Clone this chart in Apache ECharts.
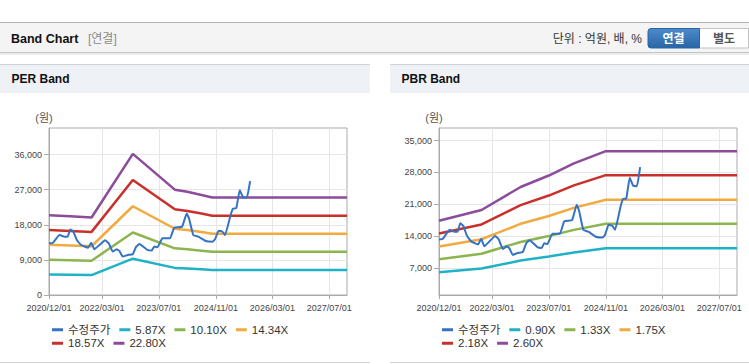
<!DOCTYPE html>
<html><head><meta charset="utf-8">
<script src="https://cdn.jsdelivr.net/npm/echarts@6/dist/echarts.min.js"></script>
<style>html,body{margin:0;padding:0;background:#fff}#c{width:749px;height:364px}</style>
</head><body><div id="c"></div>
<script>
// ---- data ----
const xTickDates = ['2020-12-01','2022-03-01','2023-07-01','2024-11-01','2026-03-01','2027-07-01'];
const xMin = '2020-12-01', xMax = '2027-12-01';

const priceDates = ['2020-12-01','2021-01-04','2021-03-01','2021-04-13','2021-05-10','2021-06-01','2021-06-28','2021-07-28','2021-09-03','2021-11-01','2021-11-28','2021-12-25','2022-02-07','2022-03-28','2022-04-28','2022-06-01','2022-07-04','2022-07-28','2022-08-25','2022-10-07','2022-11-19','2022-12-19','2023-01-16','2023-03-25','2023-05-01','2023-05-22','2023-06-19','2023-08-01','2023-10-04','2023-11-10','2024-01-16','2024-02-25','2024-03-16','2024-04-22','2024-06-04','2024-08-07','2024-10-04','2024-10-25','2024-11-25','2024-12-28','2025-01-19','2025-03-07','2025-03-28','2025-04-25','2025-05-25','2025-06-22','2025-07-25','2025-08-22'];
const priceValues = [13245,13410,15370,14940,14940,16810,16220,14090,12820,12140,13410,11720,12820,14010,13245,11120,11720,11290,9850,10270,10440,12400,13075,11550,11380,12400,12230,14520,14520,17235,17490,20885,19610,15370,14940,13840,13670,14260,16470,16220,15370,20460,22160,22240,26830,25130,24960,29200];

const perDates = ['2020-12-01','2021-06-01','2021-12-01','2022-11-20','2023-11-15','2024-03-01','2024-07-01','2024-10-01','2027-12-01'];
const perNames = ['5.87X','10.10X','14.34X','18.57X','22.80X'];
const per587  = [5265,5189,5113,9310,6950,6809,6604,6428,6428];
const per1010 = [9060,8928,8797,16019,11958,11716,11363,11060,11060];
const per1434 = [12863,12677,12490,22743,16979,16634,16133,15702,15702];
const per1857 = [16657,16416,16174,29452,21987,21541,20891,20334,20334];
const per2280 = [20452,20155,19859,36161,26995,26448,25650,24966,24966];
const perYTicks = [0,9000,18000,27000,36000];

const pbrDates = ['2020-12-01','2021-12-01','2022-11-01','2023-07-01','2024-02-01','2024-11-01','2027-12-01'];
const pbrNames = ['0.90X','1.33X','1.75X','2.18X','2.60X'];
const pbr090 = [6006,6831,8584,9461,10389,11316,11316];
const pbr133 = [8875,10095,12686,13981,15352,16722,16722];
const pbr175 = [11678,13283,16692,18396,20200,22003,22003];
const pbr218 = [14547,16546,20793,22916,25164,27409,27409];
const pbr260 = [17350,19734,24799,27331,30012,32690,32690];
const pbrYTicks = [7000,14000,21000,28000,35000];

const priceName = '수정주가';
const bandColors = ['#1fb1c6','#8cb44f','#f1aa3d','#c9302c','#8c4b9b'];
const priceColor = '#3473c3';

// ---- helpers ----
const ts = s => { const p = s.split('-').map(Number); return Date.UTC(p[0], p[1]-1, p[2]); };
const pad = n => (n < 10 ? '0' : '') + n;
const fmtDate = v => { const d = new Date(v); return d.getUTCFullYear() + '/' + pad(d.getUTCMonth()+1) + '/' + pad(d.getUTCDate()); };
const fmtNum = v => String(v).replace(/\B(?=(\d{3})+(?!\d))/g, ',');
const pairs = (dates, vals) => dates.map((d, i) => [ts(d), vals[i]]);

const FONT = "'Liberation Sans', Arial, 'Noto Sans CJK KR', sans-serif";
const KFONT = "'Liberation Sans', 'Noto Sans CJK KR', sans-serif";

function xAxisCfg(gi) {
  const tv = xTickDates.map(ts);
  return {
    type: 'value', gridIndex: gi, min: ts(xMin), max: ts(xMax), scale: true,
    axisLine: { show: true, onZero: false, lineStyle: { color: '#aaaaaa', width: 1 } },
    axisTick: { show: true, length: 4, lineStyle: { color: '#aaaaaa' }, customValues: tv },
    axisLabel: { customValues: tv, formatter: v => fmtDate(v), fontSize: 9, color: '#444', fontFamily: FONT, margin: 8, showMinLabel: true, showMaxLabel: true },
    splitLine: { show: true, lineStyle: { color: '#e6e6e6', width: 1 } }
  };
}
function yAxisCfg(gi, min, max, ticks) {
  return {
    type: 'value', gridIndex: gi, min: min, max: max,
    axisLine: { show: true, lineStyle: { color: '#aaaaaa', width: 1 } },
    axisTick: { show: true, length: 5, lineStyle: { color: '#aaaaaa' }, customValues: ticks },
    axisLabel: { customValues: ticks, formatter: v => fmtNum(v), fontSize: 9, color: '#444', fontFamily: FONT, margin: 7 },
    splitLine: { show: true, lineStyle: { color: '#e6e6e6', width: 1 } }
  };
}
function lineSeries(name, gi, data, color, width, smooth) {
  return {
    name: name, type: 'line', xAxisIndex: gi, yAxisIndex: gi, data: data,
    showSymbol: false, symbol: 'none', smooth: smooth || false,
    lineStyle: { color: color, width: width }, itemStyle: { color: color },
    emphasis: { disabled: true }, silent: true
  };
}
function legendCfg(left, top, names) {
  return {
    left: left, top: top, orient: 'horizontal', data: names.map(n => ({ name: n, icon: 'rect' })),
    itemWidth: 11, itemHeight: 3, itemGap: 9, selectedMode: false, padding: 0,
    formatter: n => '{a|' + n + '}',
    textStyle: { fontSize: 11.5, color: '#333', fontFamily: KFONT, rich: { a: { width: 40, fontSize: 11.5, color: '#333', fontFamily: KFONT } } }
  };
}

const perBands = [per587, per1010, per1434, per1857, per2280];
const pbrBands = [pbr090, pbr133, pbr175, pbr218, pbr260];

const series = [];
perBands.forEach((b, i) => series.push(lineSeries(perNames[i], 0, pairs(perDates, b), bandColors[i], 2.5)));
pbrBands.forEach((b, i) => series.push(lineSeries(pbrNames[i], 1, pairs(pbrDates, b), bandColors[i], 2.5)));
series.push(lineSeries(priceName, 0, pairs(priceDates, priceValues), priceColor, 2, 0.12));
series.push(lineSeries(priceName, 1, pairs(priceDates, priceValues), priceColor, 2, 0.12));

const graphics = [
  { type: 'rect', shape: { x: 0, y: 22, width: 749, height: 1 }, style: { fill: '#b4b4b4' }, z: -10 },
  { type: 'rect', shape: { x: 0, y: 23, width: 749, height: 29 }, style: { fill: '#f4f4f4' }, z: -10 },
  { type: 'rect', shape: { x: 0, y: 52, width: 749, height: 1 }, style: { fill: '#c4c4c4' }, z: -10 },
  { type: 'rect', shape: { x: 0, y: 53, width: 749, height: 2 }, style: { fill: '#ececec' }, z: -10 },
  { type: 'text', style: { text: 'Band Chart', x: 11, y: 38.5, font: 'bold 12.5px ' + FONT, fill: '#111', verticalAlign: 'middle' } },
  { type: 'text', style: { text: '[연결]', x: 88, y: 38.5, font: '12px ' + KFONT, fill: '#8a8a8a', verticalAlign: 'middle' } },
  { type: 'text', style: { text: '단위 : 억원, 배, %', x: 642, y: 38.5, font: '12px ' + KFONT, fill: '#333', align: 'right', verticalAlign: 'middle' } },
  { type: 'rect', shape: { x: 699.5, y: 28.5, width: 49, height: 19.5 }, style: { fill: '#ffffff', stroke: '#c2c2c2', lineWidth: 1 } },
  { type: 'rect', shape: { x: 648, y: 28.5, width: 51.5, height: 19.5, r: [3, 0, 0, 3] },
    style: { fill: new echarts.graphic.LinearGradient(0, 0, 0, 1, [{ offset: 0, color: '#4d8bcb' }, { offset: 1, color: '#2965a6' }]), stroke: '#2a64a3', lineWidth: 1 } },
  { type: 'text', style: { text: '연결', x: 673.5, y: 38.5, font: 'bold 12px ' + KFONT, fill: '#fff', align: 'center', verticalAlign: 'middle' } },
  { type: 'text', style: { text: '별도', x: 724, y: 38.5, font: 'bold 12px ' + KFONT, fill: '#555', align: 'center', verticalAlign: 'middle' } },
  { type: 'rect', shape: { x: 0, y: 64, width: 370, height: 29 }, style: { fill: '#eef2f7' }, z: -10 },
  { type: 'rect', shape: { x: 0, y: 64, width: 370, height: 1 }, style: { fill: '#d2d2d2' }, z: -10 },
  { type: 'rect', shape: { x: 390, y: 64, width: 359, height: 29 }, style: { fill: '#eef2f7' }, z: -10 },
  { type: 'rect', shape: { x: 390, y: 64, width: 359, height: 1 }, style: { fill: '#d2d2d2' }, z: -10 },
  { type: 'rect', shape: { x: 0, y: 362, width: 370, height: 1 }, style: { fill: '#d2d2d2' }, z: -10 },
  { type: 'rect', shape: { x: 390, y: 362, width: 359, height: 1 }, style: { fill: '#d2d2d2' }, z: -10 },
  { type: 'text', style: { text: 'PER Band', x: 11.5, y: 79, font: 'bold 12px ' + FONT, fill: '#111', verticalAlign: 'middle' } },
  { type: 'text', style: { text: 'PBR Band', x: 401.5, y: 79, font: 'bold 12px ' + FONT, fill: '#111', verticalAlign: 'middle' } },
  { type: 'text', style: { text: '(원)', x: 44, y: 118, font: '11px ' + KFONT, fill: '#555', align: 'center', verticalAlign: 'middle' } },
  { type: 'text', style: { text: '(원)', x: 434, y: 118, font: '11px ' + KFONT, fill: '#555', align: 'center', verticalAlign: 'middle' } }
];

const chart = echarts.init(document.getElementById('c'), null, { renderer: 'svg', width: 749, height: 364 });
chart.setOption({
  animation: false,
  backgroundColor: '#ffffff',
  grid: [
    { left: 49, top: 128, width: 298, height: 167, show: true, borderColor: '#aaaaaa', borderWidth: 1, backgroundColor: 'transparent' },
    { left: 439, top: 128, width: 298, height: 167, show: true, borderColor: '#aaaaaa', borderWidth: 1, backgroundColor: 'transparent' }
  ],
  xAxis: [xAxisCfg(0), xAxisCfg(1)],
  yAxis: [yAxisCfg(0, 0, 42800, perYTicks), yAxisCfg(1, 1000, 37800, pbrYTicks)],
  legend: [
    legendCfg(52, 324, [priceName, perNames[0], perNames[1], perNames[2]]),
    legendCfg(52, 337.5, [perNames[3], perNames[4]]),
    legendCfg(442, 324, [priceName, pbrNames[0], pbrNames[1], pbrNames[2]]),
    legendCfg(442, 337.5, [pbrNames[3], pbrNames[4]])
  ],
  graphic: graphics,
  series: series
});
</script></body></html>
